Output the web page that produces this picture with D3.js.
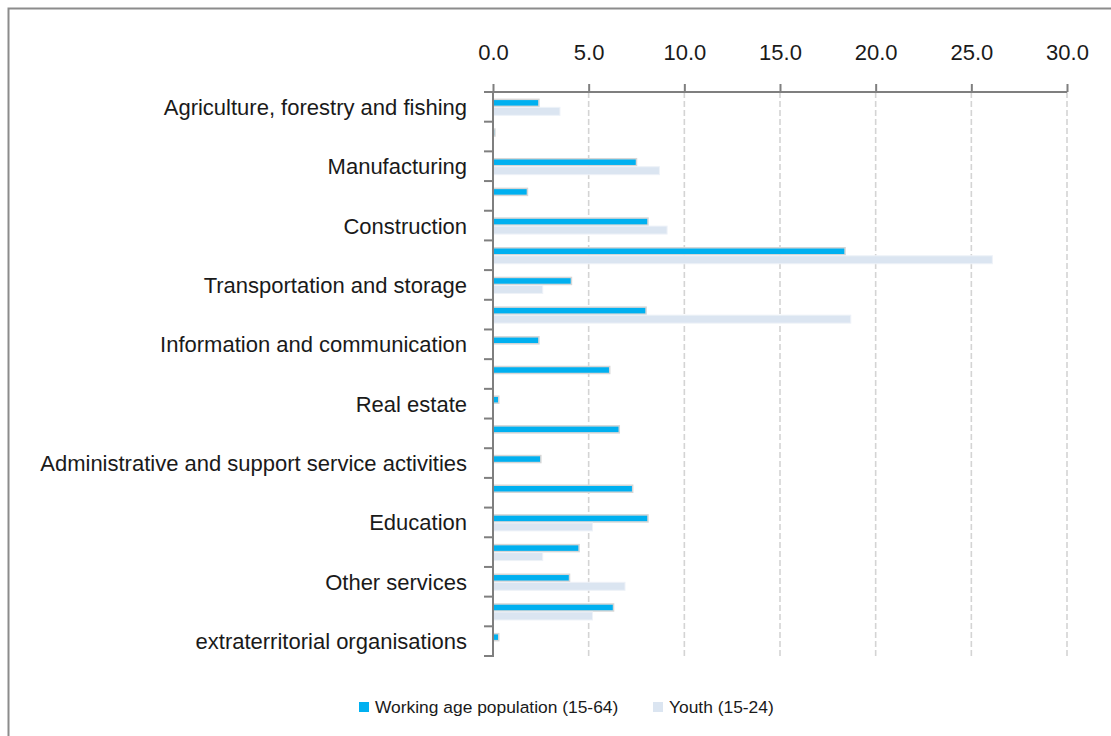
<!DOCTYPE html>
<html><head><meta charset="utf-8">
<script src="https://cdn.jsdelivr.net/npm/d3@7"></script>
<style>
body{margin:0;background:#fff;}
svg text{font-family:"Liberation Sans Narrow","Arial Narrow","Liberation Sans",sans-serif;fill:#1a1a1a;}
</style></head><body>
<svg id="c" width="1111" height="736"></svg>
<script>
const categories = [
  "Agriculture, forestry and fishing",
  "Mining and quarrying",
  "Manufacturing ",
  "Electricity, gas and water supply",
  "Construction",
  "Wholesale and retail trade",
  "Transportation and storage",
  "Accommodation and food service activities",
  "Information and communication",
  "Financial and insurance activities",
  "Real estate",
  "Professional, scientific and technical activities",
  "Administrative and support service activities ",
  "Public administration and defence",
  "Education",
  "Human health and social work activities",
  "Other services",
  "Activities of households as employers",
  "extraterritorial organisations"
];
const shownLabels = [true,false,true,false,true,false,true,false,true,false,true,false,true,false,true,false,true,false,true];
const workingAge = [2.4, 0.1, 7.5, 1.8, 8.1, 18.4, 4.1, 8.0, 2.4, 6.1, 0.3, 6.6, 2.5, 7.3, 8.1, 4.5, 4.0, 6.3, 0.3];
const youth      = [3.5, 0.0, 8.7, 0.0, 9.1, 26.1, 2.6, 18.7, 0.0, 0.0, 0.0, 0.0, 0.0, 0.0, 5.2, 2.6, 6.9, 5.2, 0.0];
const xTicks = [0, 5, 10, 15, 20, 25, 30];
const seriesNames = ["Working age population (15-64)", "Youth (15-24)"];
const seriesColors = ["#00b0f0", "#dbe5f1"];

const svg = d3.select("#c");
// frame
svg.append("rect").attr("x",8.5).attr("y",8.5).attr("width",1120).attr("height",740)
  .attr("fill","none").attr("stroke","#8c8c8c").attr("stroke-width",2);

const x = d3.scaleLinear().domain([0,30]).range([493,1067]);
const y = d3.scaleBand().domain(categories).range([92,656]).padding(0);

// gridlines
svg.append("g").selectAll("line").data(xTicks.filter(d=>d>0)).join("line")
  .attr("x1",d=>x(d)).attr("x2",d=>x(d)).attr("y1",92).attr("y2",656)
  .attr("stroke","#d4d4d4").attr("stroke-width",1.6).attr("stroke-dasharray","6,3");

// bars
const bh = 8;
const gBars = svg.append("g");
categories.forEach((c,i)=>{
  const cy = y(c) + y.bandwidth()/2;
  if (workingAge[i] > 0) {
    gBars.append("rect").attr("x",x(0)).attr("y",cy-bh+0.5).attr("width",x(workingAge[i])-x(0)).attr("height",bh-1)
      .attr("fill",seriesColors[0]).attr("stroke","#d6d6d6").attr("stroke-width",1.5);
  }
  if (youth[i] > 0) {
    gBars.append("rect").attr("x",x(0)).attr("y",cy+0.5).attr("width",x(youth[i])-x(0)).attr("height",bh)
      .attr("fill",seriesColors[1]).attr("stroke","#eef2f8").attr("stroke-width",1);
  }
});

const FONT = "'Liberation Sans Narrow','Arial Narrow','Liberation Sans',sans-serif";
// top axis
const xAxis = d3.axisTop(x).tickValues(xTicks).tickFormat(d3.format(".1f")).tickSize(8).tickSizeOuter(0).tickPadding(24);
const gx = svg.append("g").attr("transform","translate(0,92)").call(xAxis);
gx.select(".domain").remove();
gx.append("line").attr("x1",484).attr("x2",1067).attr("y1",0).attr("y2",0).attr("stroke","#7f7f7f").attr("stroke-width",2);
gx.selectAll(".tick line").attr("stroke","#7f7f7f").attr("stroke-width",2);
gx.selectAll(".tick text").attr("font-size",22).attr("fill","#1a1a1a").style("font-family",FONT);

// left axis
const yAxis = d3.axisLeft(y).tickSize(0).tickPadding(26).tickFormat((d,i)=> shownLabels[i] ? d : "");
const gy = svg.append("g").attr("transform","translate(493,0)").call(yAxis);
gy.select(".domain").remove();
gy.append("line").attr("x1",0).attr("x2",0).attr("y1",92).attr("y2",657).attr("stroke","#7f7f7f").attr("stroke-width",2);
gy.selectAll(".tick text").attr("font-size",22).attr("fill","#1a1a1a").attr("dy","0.36em").style("font-family",FONT);
// category boundary ticks
const bounds = categories.map(c=>y(c)).concat([y.range()[1]]);
gy.append("g").selectAll("line").data(bounds).join("line")
  .attr("x1",-9).attr("x2",0).attr("y1",d=>d).attr("y2",d=>d).attr("stroke","#7f7f7f").attr("stroke-width",2);

// legend
const legend = svg.append("g");
const legItems = [{x:359, name:seriesNames[0], color:seriesColors[0]},{x:653, name:seriesNames[1], color:seriesColors[1]}];
legItems.forEach(it=>{
  legend.append("rect").attr("x",it.x).attr("y",702).attr("width",10).attr("height",10).attr("fill",it.color);
  legend.append("text").attr("x",it.x+16).attr("y",707).attr("dy","0.35em").attr("font-size",17.4).style("font-family",FONT).text(it.name);
});
</script>
</body></html>
